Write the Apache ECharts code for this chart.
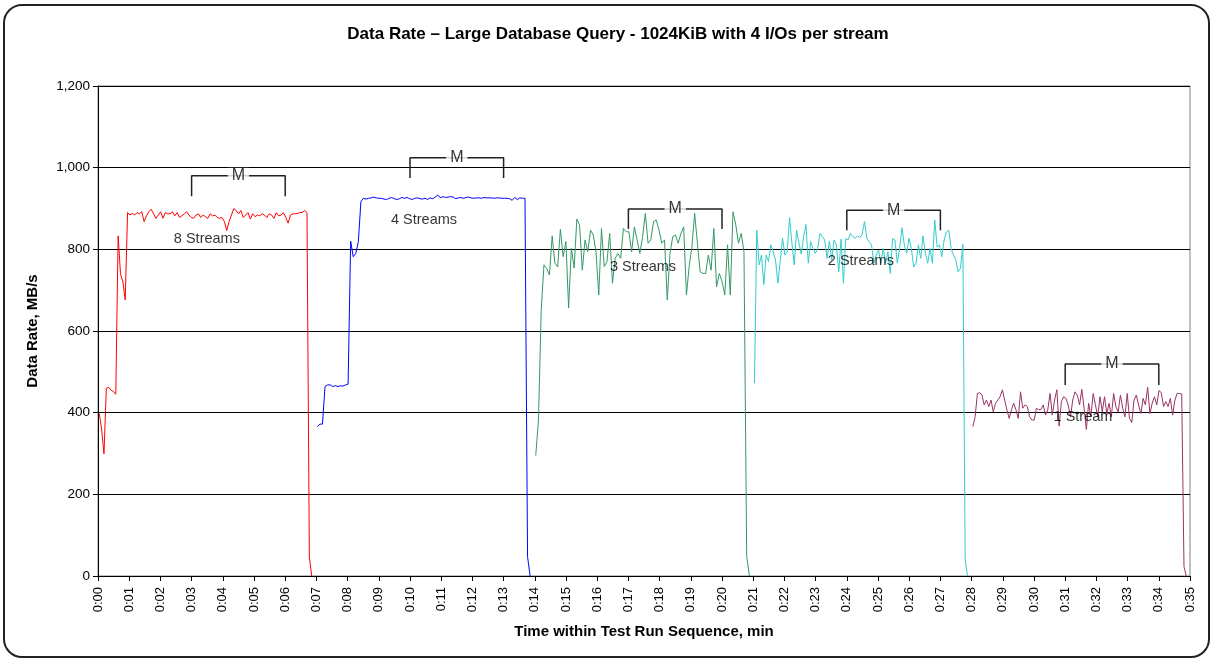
<!DOCTYPE html>
<html>
<head>
<meta charset="utf-8">
<script src="https://cdn.jsdelivr.net/npm/echarts@6/dist/echarts.min.js"></script>
<style>
html,body{margin:0;padding:0;background:#fff;}
#chart{width:1214px;height:662px;}
</style>
</head>
<body>
<div id="chart"></div>
<script>
// ---- Data ----
const streamNames = ['8 Streams', '4 Streams', '3 Streams', '2 Streams', '1 Stream'];
// time window of each run, minutes
const runStart = [0.04, 7.03, 14.03, 21.04, 28.04];
const runEnd = [6.85, 13.85, 20.88, 27.87, 34.88];

const rate8 = [398, 360, 299, 460, 462, 455, 452, 445, 833, 740, 721, 676, 890, 884, 888, 884, 890, 887, 892, 868, 882, 892, 898, 887, 876, 884, 892, 876, 890, 887, 887, 892, 882, 890, 878, 882, 887, 892, 884, 878, 876, 884, 887, 878, 884, 880, 876, 887, 882, 884, 878, 876, 878, 868, 846, 868, 884, 900, 895, 887, 895, 878, 884, 890, 874, 887, 880, 884, 882, 887, 884, 878, 887, 884, 876, 890, 882, 884, 890, 878, 864, 884, 887, 887, 888, 890, 890, 895, 890, 47, 0];
const rate4 = [366, 372, 372, 464, 468, 468, 464, 466, 464, 466, 465, 468, 470, 820, 782, 790, 819, 917, 925, 923, 925, 926, 928, 926, 925, 925, 923, 922, 925, 927, 924, 922, 924, 927, 925, 927, 924, 922, 925, 926, 924, 923, 925, 922, 926, 924, 928, 933, 926, 929, 927, 928, 929, 928, 924, 926, 927, 925, 927, 928, 926, 925, 926, 926, 925, 927, 926, 926, 926, 925, 926, 926, 925, 925, 925, 924, 920, 927, 922, 926, 925, 925, 47, 0];
const rate3 = [295, 382, 651, 762, 753, 737, 833, 766, 757, 849, 782, 819, 656, 803, 754, 874, 860, 749, 823, 794, 847, 835, 794, 688, 851, 758, 770, 839, 717, 778, 790, 778, 851, 843, 843, 794, 855, 823, 790, 831, 888, 815, 823, 868, 872, 847, 815, 823, 676, 790, 831, 835, 815, 839, 855, 688, 758, 806, 888, 815, 745, 741, 741, 786, 749, 851, 708, 741, 721, 688, 811, 688, 892, 860, 815, 839, 794, 47, 0];
const rate2 = [472, 847, 762, 786, 714, 786, 770, 811, 794, 774, 717, 770, 827, 786, 794, 878, 815, 762, 847, 815, 788, 831, 861, 766, 819, 802, 790, 802, 839, 831, 823, 778, 820, 774, 823, 811, 745, 825, 717, 827, 823, 839, 831, 827, 833, 829, 837, 868, 827, 819, 811, 766, 786, 798, 766, 802, 766, 794, 741, 827, 823, 766, 802, 853, 811, 790, 827, 802, 757, 766, 811, 778, 833, 790, 766, 802, 766, 872, 806, 811, 782, 823, 843, 847, 802, 786, 774, 745, 754, 812, 39, 0];
const rate1 = [366, 390, 447, 449, 443, 419, 431, 415, 431, 402, 423, 431, 439, 456, 431, 407, 386, 407, 423, 407, 386, 451, 411, 419, 415, 390, 382, 382, 411, 407, 408, 419, 394, 407, 447, 394, 431, 456, 367, 427, 439, 435, 419, 390, 431, 451, 443, 419, 457, 411, 359, 423, 390, 447, 419, 390, 439, 402, 439, 398, 423, 390, 447, 415, 402, 443, 411, 390, 447, 386, 376, 431, 443, 419, 398, 435, 419, 462, 398, 423, 439, 419, 454, 449, 415, 427, 415, 435, 394, 431, 447, 447, 446, 23, 0];
const rates = [rate8, rate4, rate3, rate2, rate1];

// annotations: stream label anchor (time, rate)
const labelTime = [3.49, 10.45, 17.47, 24.45, 31.57];
const labelRate = [825, 872, 757, 771, 389];
// measurement window brackets "M"
const measureStart = [3, 10, 17, 24, 31];
const measureEnd = [6, 13, 20, 27, 34];
const bracketTop = [980, 1024, 899, 896, 519];
const bracketBottom = [930, 975, 850, 847, 468];

const yTicks = [0, 200, 400, 600, 800, 1000, 1200];

// ---- Styles ----
const colors = ['#FF0000', '#0000FF', '#339966', '#33CCCC', '#993366'];
const FONT = '"Liberation Sans", Arial, sans-serif';

function toPairs(vals, t0, t1) {
  const n = vals.length;
  const step = (t1 - t0) / (n - 1);
  return vals.map((v, i) => [t0 + i * step, v]);
}

const series = [];
rates.forEach((vals, k) => {
  series.push({
    name: streamNames[k],
    type: 'line',
    data: toPairs(vals, runStart[k], runEnd[k]),
    symbol: 'none',
    lineStyle: { color: colors[k], width: 1 },
    itemStyle: { color: colors[k] },
    silent: true,
    z: 2
  });
});
// brackets
measureStart.forEach((s, k) => {
  const e = measureEnd[k];
  series.push({
    type: 'line',
    data: [[s, bracketBottom[k]], [s, bracketTop[k]], [e, bracketTop[k]], [e, bracketBottom[k]]],
    symbol: 'none',
    lineStyle: { color: '#222', width: 1.5 },
    silent: true,
    z: 3
  });
});
// "M" labels
series.push({
  type: 'scatter',
  data: measureStart.map((s, k) => [(s + measureEnd[k]) / 2, bracketTop[k]]),
  symbolSize: 1,
  itemStyle: { color: 'rgba(0,0,0,0)' },
  label: {
    show: true, position: 'inside', formatter: 'M',
    color: '#000', fontSize: 16, fontFamily: FONT,
    backgroundColor: '#fff', padding: [0, 4]
  },
  silent: true,
  z: 5
});
// stream labels
series.push({
  type: 'scatter',
  data: labelTime.map((t, k) => ({ value: [t, labelRate[k]], name: streamNames[k] })),
  symbolSize: 1,
  itemStyle: { color: 'rgba(0,0,0,0)' },
  label: {
    show: true, position: 'inside', formatter: p => p.name,
    color: '#000', fontSize: 14.5, fontFamily: FONT
  },
  silent: true,
  z: 5
});

const chart = echarts.init(document.getElementById('chart'), null, { renderer: 'canvas' });
chart.setOption({
  animation: false,
  backgroundColor: '#fff',
  title: {
    text: 'Data Rate \u2013 Large Database Query - 1024KiB with 4 I/Os per stream',
    left: 613, top: 21, textAlign: 'center',
    textStyle: { fontFamily: FONT, fontSize: 17, fontWeight: 'bold', color: '#000' }
  },
  grid: {
    left: 98, right: 24, top: 86, bottom: 86,
    show: true, borderColor: '#808080', borderWidth: 1, backgroundColor: '#fff'
  },
  xAxis: {
    type: 'value', min: 0, max: 35, interval: 1,
    name: 'Time within Test Run Sequence, min',
    nameLocation: 'middle', nameGap: 48,
    nameTextStyle: { fontFamily: FONT, fontSize: 15, fontWeight: 'bold', color: '#000' },
    axisLine: { show: true, onZero: false, lineStyle: { color: '#000', width: 1 } },
    axisTick: { show: true, length: 5, lineStyle: { color: '#000' } },
    axisLabel: {
      rotate: 90, margin: 11, fontFamily: FONT, fontSize: 13, color: '#000',
      formatter: v => '0:' + String(Math.round(v)).padStart(2, '0')
    },
    splitLine: { show: false }
  },
  yAxis: {
    type: 'value', min: yTicks[0], max: yTicks[yTicks.length - 1], interval: 200,
    name: 'Data Rate, MB/s',
    nameLocation: 'middle', nameGap: 58,
    nameTextStyle: { fontFamily: FONT, fontSize: 15, fontWeight: 'bold', color: '#000' },
    axisLine: { show: true, lineStyle: { color: '#000', width: 1 } },
    axisTick: { show: true, length: 5, lineStyle: { color: '#000' } },
    axisLabel: {
      margin: 8, fontFamily: FONT, fontSize: 13.5, color: '#000',
      formatter: v => v.toLocaleString('en-US')
    },
    splitLine: { show: true, lineStyle: { color: '#000', width: 1 } }
  },
  graphic: [{
    type: 'rect',
    shape: { x: 4, y: 5, width: 1205, height: 652, r: 18 },
    style: { fill: 'none', stroke: '#222', lineWidth: 2 },
    silent: true, z: 100
  }],
  series: series
});
</script>
</body>
</html>
